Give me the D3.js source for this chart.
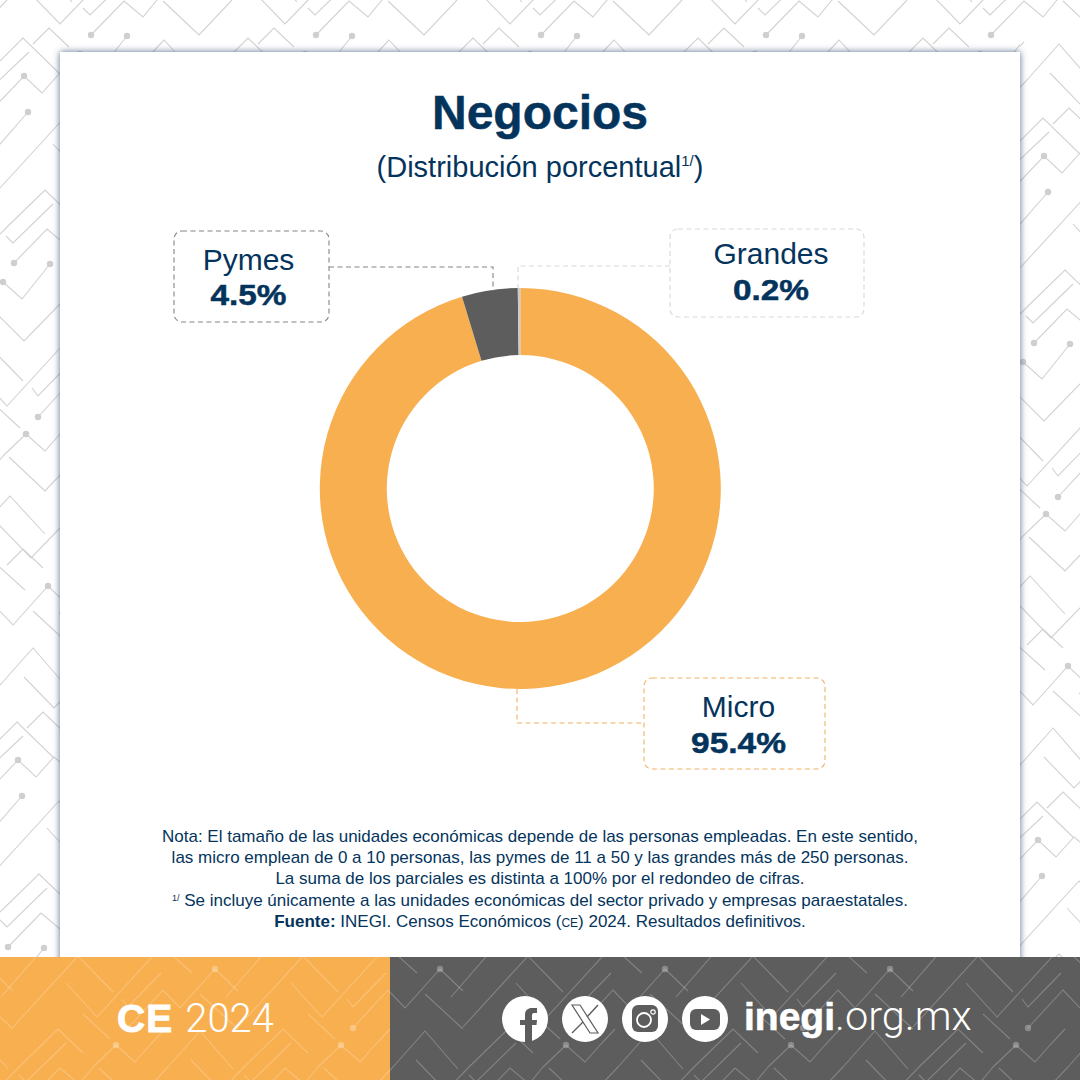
<!DOCTYPE html>
<html>
<head>
<meta charset="utf-8">
<script src="https://d3js.org/d3.v7.min.js"></script>
<style>
	html, body { margin: 0; padding: 0; background: #fff; }
	svg { display: block; }
	text { font-family: "Liberation Sans", Arial, sans-serif; }
</style>
</head>
<body>
<svg id="graph"></svg>
<script>
var screenWidth = 1080;
var screenHeight = 1080;

// chart data
var categories = ['Micro', 'Pymes', 'Grandes'];
var values = [95.4, 4.5, 0.2];
var valueLabels = ['95.4%', '4.5%', '0.2%'];
var sliceColors = ['#f8af50', '#5d5d5d', '#cbcbcb'];
var boxColors = ['#f1b264', '#858585', '#d8d8d8'];

var noteLines = [
	'Nota: El tamaño de las unidades económicas depende de las personas empleadas. En este sentido,',
	'las micro emplean de 0 a 10 personas, las pymes de 11 a 50 y las grandes más de 250 personas.',
	'La suma de los parciales es distinta a 100% por el redondeo de cifras.'
];

var navy = '#04345c';

// label boxes, in the same order as categories
var boxes = [
	{x: 644, y: 678, w: 181, h: 91, textX: 738.5, nameY: 717, valueY: 753, valueW: 95, line: [[517, 689], [517, 723], [644, 723]]},
	{x: 174, y: 231, w: 155, h: 91, textX: 248.5, nameY: 270, valueY: 305, valueW: 76, line: [[329, 267], [493, 267], [493, 291]]},
	{x: 670, y: 229, w: 194, h: 88, textX: 771, nameY: 264, valueY: 300, valueW: 76, line: [[670, 266], [518, 266], [518, 288]]}
];

// background circuit pattern, one cell of a skewed lattice
var tileX = 225;
var tileStepX = -77;
var tileStepY = 228;
var tileLines = [
	[[30, -7], [60, 24], [83, 0]],
	[[83, 8], [90, 15], [130, -24]],
	[[91, 35], [124, 1], [143, 17], [157, 0]],
	[[163, 1], [199, 35], [232, 0]],
	[[127, 36], [99, 71], [80, 54]],
	[[150, 55], [164, 40], [199, 78]],
	[[33, 44], [49, 28], [69, 47]],
	[[-8, 87], [29, 52]],
	[[-10, 112], [24, 76], [42, 93], [60, 73], [66, 78], [101, 113], [137, 76], [148, 64], [154, 70], [185, 102], [214, 72], [248, 38], [285, 74]],
	[[28, 112], [-12, 158]],
	[[0, 188], [65, 117], [100, 153]],
	[[53, 144], [84, 178], [149, 107], [179, 134]],
	[[6, 228], [45, 190], [70, 214]],
	[[109, 160], [115, 168], [148, 134]],
	[[115, 189], [150, 151], [167, 169], [202, 130], [225, 152]],
	[[70, 175], [97, 200]],
	[[80, 228], [103, 206], [122, 223], [137, 206], [152, 190]],
	[[161, 109], [177, 93], [197, 112]],
	[[187, 155], [225, 190]],
	[[155, 228], [187, 192], [220, 230]]
];
var tileDots = [[91, 35], [127, 36], [80, 54], [24, 76], [28, 112], [103, 206], [115, 189], [202, 130]];

var svg = d3.select('#graph')
	.attr('width', screenWidth)
	.attr('height', screenHeight);

var defs = svg.append('defs');
var shadow = defs.append('filter')
	.attr('id', 'cardShadow')
	.attr('x', '-5%').attr('y', '-5%')
	.attr('width', '110%').attr('height', '110%');
shadow.append('feDropShadow')
	.attr('dx', 0).attr('dy', 0)
	.attr('stdDeviation', 3.5)
	.attr('flood-color', '#4f6885')
	.attr('flood-opacity', 0.95);

function clipRect(id, rects) {
	var clip = defs.append('clipPath').attr('id', id);
	rects.forEach(function(r) {
		clip.append('rect').attr('x', r[0]).attr('y', r[1]).attr('width', r[2]).attr('height', r[3]);
	});
}
clipRect('clipTop', [[0, 0, screenWidth, 30], [0, 30, 1020, 927]]);
clipRect('clipRight', [[1020, 30, 60, 927]]);
clipRect('clipFoot', [[0, 957, screenWidth, 123]]);

var lineGen = d3.line();

function drawPattern(clipId, offX, offY, stroke, dot) {
	var group = svg.append('g').attr('clip-path', 'url(#' + clipId + ')');
	d3.range(-5, 7).forEach(function(row) {
		d3.range(-1, 9).forEach(function(col) {
			var shift = ((row * tileStepX) % tileX + tileX) % tileX;
			var cell = group.append('g')
				.attr('transform', 'translate(' + (offX + shift + (col - 1) * tileX) + ',' + (offY + row * tileStepY) + ')');
			cell.selectAll('path')
				.data(tileLines)
				.enter()
				.append('path')
				.attr('d', lineGen)
				.attr('fill', 'none')
				.attr('stroke', stroke)
				.attr('stroke-width', 1.1);
			cell.selectAll('circle')
				.data(tileDots)
				.enter()
				.append('circle')
				.attr('cx', function(d) { return d[0]; })
				.attr('cy', function(d) { return d[1]; })
				.attr('r', 3.2)
				.attr('fill', dot);
		});
	});
}

drawPattern('clipTop', 0, 0, '#d2d2d2', '#cfcfcf');
drawPattern('clipRight', 570, 80, '#d2d2d2', '#cfcfcf');

// card
svg.append('rect')
	.attr('x', 60).attr('y', 52)
	.attr('width', 960).attr('height', 930)
	.attr('fill', '#fff')
	.attr('filter', 'url(#cardShadow)');

// title
svg.append('text')
	.attr('x', 540).attr('y', 129)
	.attr('text-anchor', 'middle')
	.attr('font-size', 48)
	.attr('font-weight', 'bold')
	.attr('fill', navy)
	.attr('stroke', navy)
	.attr('stroke-width', 0.5)
	.text('Negocios');

var subtitle = svg.append('text')
	.attr('x', 540).attr('y', 177)
	.attr('text-anchor', 'middle')
	.attr('font-size', 29)
	.attr('fill', navy);
subtitle.append('tspan').text('(Distribución porcentual');
subtitle.append('tspan').attr('font-size', 15).attr('dy', -11).text('1/');
subtitle.append('tspan').attr('dy', 11).text(')');

// donut
var pie = d3.pie().sort(null).startAngle(0).endAngle(2 * Math.PI);
var arc = d3.arc().innerRadius(133.5).outerRadius(200.5);
var color = d3.scaleOrdinal().domain(categories).range(sliceColors);

svg.append('g')
	.attr('transform', 'translate(520.3,488.5)')
	.selectAll('path')
	.data(pie(values))
	.enter()
	.append('path')
	.attr('d', arc)
	.attr('fill', function(d, i) { return color(categories[i]); });

// label boxes
var label = svg.selectAll('g.label')
	.data(categories)
	.enter()
	.append('g')
	.classed('label', true);
label.append('rect')
	.attr('x', function(d, i) { return boxes[i].x; })
	.attr('y', function(d, i) { return boxes[i].y; })
	.attr('width', function(d, i) { return boxes[i].w; })
	.attr('height', function(d, i) { return boxes[i].h; })
	.attr('rx', 8)
	.attr('fill', 'none')
	.attr('stroke', function(d, i) { return boxColors[i]; })
	.attr('stroke-width', 1.1)
	.attr('stroke-dasharray', '5 3.5');
label.append('path')
	.attr('d', function(d, i) { return lineGen(boxes[i].line); })
	.attr('fill', 'none')
	.attr('stroke', function(d, i) { return boxColors[i]; })
	.attr('stroke-width', 1.1)
	.attr('stroke-dasharray', '5 3.5');
label.append('text')
	.attr('x', function(d, i) { return boxes[i].textX; })
	.attr('y', function(d, i) { return boxes[i].nameY; })
	.attr('text-anchor', 'middle')
	.attr('font-size', 30)
	.attr('fill', navy)
	.text(function(d) { return d; });
label.append('text')
	.attr('x', function(d, i) { return boxes[i].textX; })
	.attr('y', function(d, i) { return boxes[i].valueY; })
	.attr('text-anchor', 'middle')
	.attr('font-size', 30)
	.attr('font-weight', 'bold')
	.attr('textLength', function(d, i) { return boxes[i].valueW; })
	.attr('lengthAdjust', 'spacingAndGlyphs')
	.attr('fill', navy)
	.attr('stroke', navy)
	.attr('stroke-width', 0.5)
	.text(function(d, i) { return valueLabels[i]; });

// notes
var noteBase = 842;
var noteStep = 21.2;
var noteSize = 17;
svg.selectAll('text.note')
	.data(noteLines)
	.enter()
	.append('text')
	.classed('note', true)
	.attr('x', 540)
	.attr('y', function(d, i) { return noteBase + i * noteStep; })
	.attr('text-anchor', 'middle')
	.attr('font-size', noteSize)
	.attr('fill', navy)
	.text(function(d) { return d; });

var note4 = svg.append('text')
	.attr('x', 540).attr('y', noteBase + 3 * noteStep)
	.attr('text-anchor', 'middle')
	.attr('font-size', noteSize)
	.attr('fill', navy);
note4.append('tspan').attr('font-size', 9).attr('dy', -5).text('1/');
note4.append('tspan').attr('dy', 5).text(' Se incluye únicamente a las unidades económicas del sector privado y empresas paraestatales.');

var note5 = svg.append('text')
	.attr('x', 540).attr('y', noteBase + 4 * noteStep)
	.attr('text-anchor', 'middle')
	.attr('font-size', noteSize)
	.attr('fill', navy);
note5.append('tspan').attr('font-weight', 'bold').text('Fuente:');
note5.append('tspan').text(' INEGI. Censos Económicos (');
note5.append('tspan').attr('font-size', 12).text('CE');
note5.append('tspan').text(') 2024. Resultados definitivos.');

// footer
svg.append('rect').attr('x', 0).attr('y', 957).attr('width', 390).attr('height', 123).attr('fill', '#f8af50');
svg.append('rect').attr('x', 390).attr('y', 957).attr('width', 690).attr('height', 123).attr('fill', '#5d5d5d');
drawPattern('clipFoot', 238, 839, 'rgba(255,255,255,0.24)', 'rgba(255,255,255,0.28)');

var ceText = svg.append('text')
	.attr('x', 117).attr('y', 1032)
	.attr('font-size', 39)
	.attr('fill', '#fff');
ceText.append('tspan')
	.attr('font-weight', 'bold')
	.attr('stroke', '#fff')
	.attr('stroke-width', 0.9)
	.attr('letter-spacing', 1)
	.text('CE');
ceText.append('tspan')
	.attr('dx', 12)
	.attr('font-size', 40)
	.style('font-family', 'Roboto, "Liberation Sans", sans-serif')
	.attr('font-weight', 300)
	.text('2024');

var siteText = svg.append('text')
	.attr('x', 744).attr('y', 1030)
	.attr('font-size', 39)
	.attr('fill', '#fff');
siteText.append('tspan')
	.attr('font-weight', 'bold')
	.attr('stroke', '#fff')
	.attr('stroke-width', 0.6)
	.text('inegi');
siteText.append('tspan')
	.style('font-family', 'Roboto, "Liberation Sans", sans-serif')
	.attr('font-weight', 300)
	.attr('font-size', 41.5)
	.text('.org.mx');

// social icons
var iconX = [525, 585, 645, 705];
var grey = '#5d5d5d';
var icons = svg.selectAll('g.icon')
	.data(iconX)
	.enter()
	.append('g')
	.classed('icon', true)
	.attr('transform', function(d) { return 'translate(' + d + ',1019)'; });
icons.append('circle').attr('r', 23).attr('fill', '#fff');

// facebook
d3.select(icons.nodes()[0]).append('path')
	.attr('fill', grey)
	.attr('d', 'M0 23 V6 H-5 V1 H0 V-4 C0 -9 3 -11 7 -11 L12 -11 V-6 H9 C7.5 -6 7 -5 7 -3.5 V1 H12 L11.5 6 H7 V23 Z');
// x
var xIcon = d3.select(icons.nodes()[1]);
xIcon.append('path')
	.attr('fill', 'none').attr('stroke', grey).attr('stroke-width', 1.2)
	.attr('d', 'M-13 -14 H-5 L13 14 H5 Z');
xIcon.append('path')
	.attr('fill', 'none').attr('stroke', grey).attr('stroke-width', 1.4)
	.attr('d', 'M13 -14 L2 -2 M-2 3 L-13 14');
// instagram
var instaIcon = d3.select(icons.nodes()[2]);
instaIcon.append('rect')
	.attr('x', -13).attr('y', -14).attr('width', 26).attr('height', 27).attr('rx', 6)
	.attr('fill', grey);
instaIcon.append('circle').attr('cy', 1).attr('cx', -1).attr('r', 7)
	.attr('fill', 'none').attr('stroke', '#fff').attr('stroke-width', 1.8);
instaIcon.append('circle').attr('cx', 8).attr('cy', -7).attr('r', 2.2)
	.attr('fill', 'none').attr('stroke', '#fff').attr('stroke-width', 1.2);
// youtube
var ytIcon = d3.select(icons.nodes()[3]);
ytIcon.append('rect')
	.attr('x', -15).attr('y', -10).attr('width', 30).attr('height', 21).attr('rx', 6)
	.attr('fill', grey);
ytIcon.append('path').attr('fill', '#fff').attr('d', 'M-4 -5 L5 0.5 L-4 6 Z');
</script>
</body>
</html>
